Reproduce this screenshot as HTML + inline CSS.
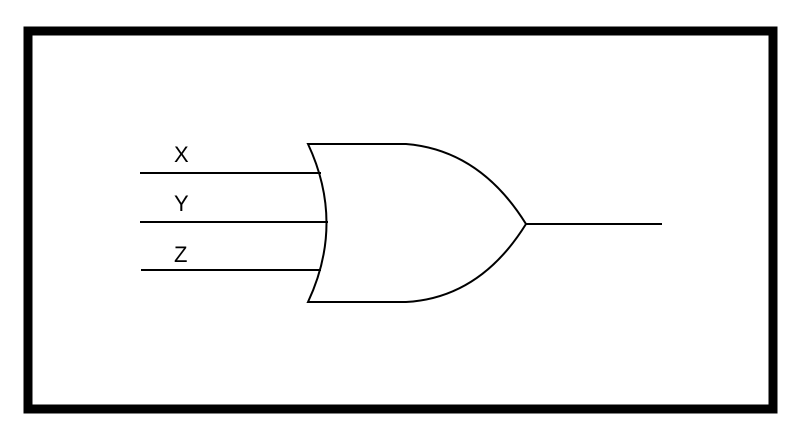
<!DOCTYPE html>
<html><head><meta charset="utf-8"><style>
html,body{margin:0;padding:0;background:#fff;}
svg{display:block;}
text{font-family:"Liberation Sans",sans-serif;font-size:22px;fill:#000;}
</style></head><body>
<svg width="799" height="441" viewBox="0 0 799 441">
<rect x="28" y="31" width="745" height="378" fill="none" stroke="#000" stroke-width="9"/>
<g stroke="#000" stroke-width="2" fill="none">
<line x1="140" y1="173" x2="321" y2="173"/>
<line x1="140" y1="222" x2="328" y2="222"/>
<line x1="141" y1="270" x2="321" y2="270"/>
<path d="M308,144 L406,144 Q480,150 526,224 Q480,298 406,302 L308,302 Q345,223 308,144 Z"/>
<line x1="526" y1="224" x2="662" y2="224"/>
</g>
<text x="174" y="162">X</text>
<text x="174" y="211">Y</text>
<text x="174" y="262">Z</text>
</svg>
</body></html>
